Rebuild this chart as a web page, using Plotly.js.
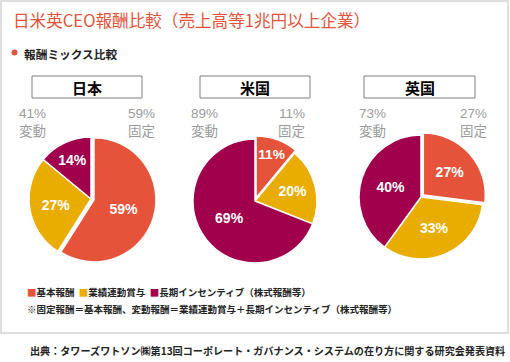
<!DOCTYPE html>
<html><head><meta charset="utf-8">
<script src="https://cdn.plot.ly/plotly-3.0.1.min.js"></script>
<style>body{margin:0;padding:0;background:#fff}#chart{width:510px;height:362px}</style>
</head><body><div id="chart"></div>
<script>
const categories = ['基本報酬', '業績連動賞与', '長期インセンティブ（株式報酬等）'];
const countries = ['日本', '米国', '英国'];
const japan = [59, 27, 14];
const us = [11, 20, 69];
const uk = [27, 33, 40];
const colors = ['#E4533A', '#E9AC00', '#A0004C'];

const W = 510, H = 362;
const px = x => x / W;
const py = y => 1 - y / H;
const JP = '"Noto Sans CJK JP", sans-serif';
const LAT = '"Liberation Sans", "Noto Sans CJK JP", sans-serif';

const series = [japan, us, uk];
const centers = [[91, 199], [255, 201], [421, 197]];
const R = 62, PULL = 0.05;
const half = R * (1 + PULL);

const traces = series.map((vals, i) => {
  const [cx, cy] = centers[i];
  return {
    type: 'pie',
    values: vals,
    labels: categories,
    text: vals.map(v => v + '%'),
    textinfo: 'text',
    textposition: 'inside',
    insidetextorientation: 'horizontal',
    insidetextfont: {family: LAT, size: 14, color: '#fff', weight: 'bold'},
    sort: false,
    direction: 'clockwise',
    rotation: 0,
    pull: [PULL, 0, 0],
    marker: {colors: colors, line: {color: '#fff', width: 1.5}},
    hoverinfo: 'none',
    showlegend: false,
    domain: {x: [px(cx - half), px(cx + half)], y: [py(cy + half), py(cy - half)]}
  };
});

const shapes = [
  {type: 'rect', xref: 'paper', yref: 'paper', x0: px(1), x1: px(508), y0: py(1), y1: py(333),
   line: {color: '#D4D4D4', width: 1.5}, fillcolor: 'rgba(0,0,0,0)'},
  {type: 'circle', xref: 'paper', yref: 'paper', x0: px(11.5), x1: px(17.5), y0: py(49.5), y1: py(55.5),
   line: {width: 0}, fillcolor: '#E4533A'}
];
const boxX = [[32, 142], [200, 310], [364, 475]];
boxX.forEach(b => shapes.push({type: 'rect', xref: 'paper', yref: 'paper', x0: px(b[0]), x1: px(b[1]),
  y0: py(76), y1: py(98), line: {color: '#7F7F7F', width: 1}, fillcolor: '#fff'}));

const annotations = [
  {text: '日米英CEO報酬比較（売上高等1兆円以上企業）', x: px(11), y: py(20), xanchor: 'left', yanchor: 'middle',
   font: {family: JP, size: 16.6, color: '#E4533A'}},
  {text: '<b>報酬ミックス比較</b>', x: px(22), y: py(53), xanchor: 'left', yanchor: 'middle',
   font: {family: JP, size: 11.7, color: '#222'}}
];
countries.forEach((c, i) => {
  const b = boxX[i];
  annotations.push({text: '<b>' + c + '</b>', x: px((b[0] + b[1]) / 2), y: py(87), xanchor: 'center', yanchor: 'middle',
    font: {family: JP, size: 15, color: '#000'}});
});
const leftX = [17, 189, 357];
const rightX = [157, 307, 489];
series.forEach((vals, i) => {
  const fixed = vals[0];
  const variable = vals[1] + vals[2];
  annotations.push({text: variable + '%<br>変動', x: px(leftX[i]), y: py(122), xanchor: 'left', yanchor: 'middle', align: 'left',
    font: {family: LAT, size: 13.5, color: '#9B9B9B'}});
  annotations.push({text: fixed + '%<br>固定', x: px(rightX[i]), y: py(122), xanchor: 'right', yanchor: 'middle', align: 'right',
    font: {family: LAT, size: 13.5, color: '#9B9B9B'}});
});
const legendText = categories.map((c, i) => '<span style="color:' + colors[i] + '">■</span>' + c).join('  ');
annotations.push({text: '<b>' + legendText + '</b>', x: px(25), y: py(292), xanchor: 'left', yanchor: 'middle',
  font: {family: JP, size: 9.5, color: '#222'}});
annotations.push({text: '<b>※固定報酬＝基本報酬、変動報酬＝業績連動賞与＋長期インセンティブ（株式報酬等）</b>', x: px(25), y: py(309),
  xanchor: 'left', yanchor: 'middle', font: {family: JP, size: 9.5, color: '#222'}});
annotations.push({text: '<b>出典：タワーズワトソン㈱第13回コーポレート・ガバナンス・システムの在り方に関する研究会発表資料</b>',
  x: px(507), y: py(350), xanchor: 'right', yanchor: 'middle', font: {family: JP, size: 10.1, color: '#222'}});
annotations.forEach(a => { a.xref = 'paper'; a.yref = 'paper'; a.showarrow = false; });

Plotly.newPlot('chart', traces, {
  width: W, height: H,
  margin: {l: 0, r: 0, t: 0, b: 0},
  paper_bgcolor: '#fff',
  shapes: shapes,
  annotations: annotations,
  showlegend: false
}, {staticPlot: true});
</script></body></html>
